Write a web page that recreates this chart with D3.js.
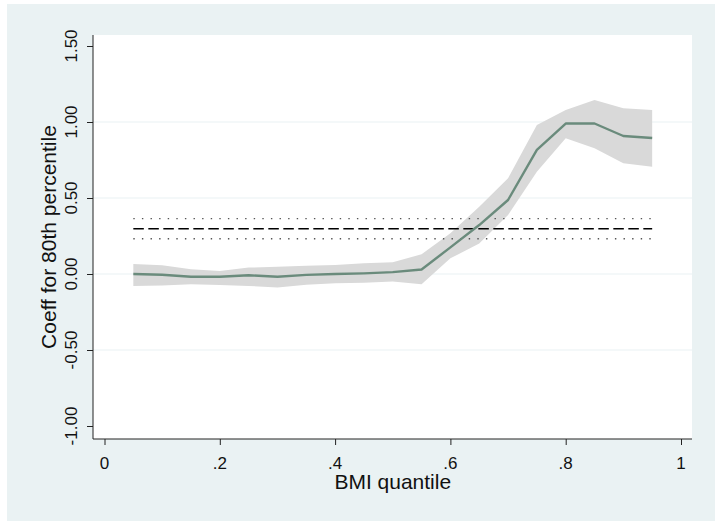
<!DOCTYPE html>
<html>
<head>
<meta charset="utf-8">
<script src="https://cdn.jsdelivr.net/npm/d3@7"></script>
<style>
  html, body { margin: 0; padding: 0; background: #ffffff; }
  svg { display: block; }
  .tick-label { font-family: "Liberation Sans Narrow", "Liberation Sans", Arial, sans-serif; font-size: 17px; fill: #111; }
  .axis-title { font-family: "Liberation Sans", Arial, sans-serif; font-size: 21px; fill: #111; }
</style>
</head>
<body>
<script>
// BMI quantiles at which the quantile-regression coefficient was estimated
const quantiles = [0.05, 0.10, 0.15, 0.20, 0.25, 0.30, 0.35, 0.40, 0.45, 0.50,
                   0.55, 0.60, 0.65, 0.70, 0.75, 0.80, 0.85, 0.90, 0.95];
// Coefficient for the 80th percentile at each quantile
const coef  = [0.000, -0.005, -0.018, -0.018, -0.008, -0.018, -0.006, 0.000, 0.004, 0.012,
               0.030, 0.175, 0.322, 0.487, 0.816, 0.990, 0.990, 0.908, 0.895];
// 95% confidence band
const ciHigh = [0.066, 0.057, 0.031, 0.020, 0.042, 0.048, 0.055, 0.059, 0.070, 0.078,
                0.130, 0.268, 0.443, 0.630, 0.980, 1.079, 1.145, 1.090, 1.079];
const ciLow  = [-0.079, -0.075, -0.068, -0.072, -0.079, -0.088, -0.070, -0.061, -0.057, -0.050,
                -0.068, 0.103, 0.200, 0.388, 0.673, 0.893, 0.827, 0.728, 0.706];
// OLS reference estimate and its confidence limits
const olsCoef = 0.298;
const olsLow  = 0.232;
const olsHigh = 0.364;

const xTicks = [0, 0.2, 0.4, 0.6, 0.8, 1];
const xTickLabels = ["0", ".2", ".4", ".6", ".8", "1"];
const yTicks = [-1, -0.5, 0, 0.5, 1, 1.5];
const yTickLabels = ["-1.00", "-0.50", "0.00", "0.50", "1.00", "1.50"];
const yGrid = [-0.5, 0, 0.5, 1];

const W = 715, H = 521;
const bg = "#eaf2f3";
const plot = { left: 93, right: 692, top: 35, bottom: 439 };

const x = d3.scaleLinear().domain([0, 1]).range([104.5, 681]);
const y = d3.scaleLinear().domain([-1, 1.5]).range([426, 46]);

const svg = d3.select("body").append("svg")
  .attr("width", W).attr("height", H);

// outer graph region
svg.append("rect").attr("x", 7).attr("y", 4)
  .attr("width", W - 7).attr("height", H - 4).attr("fill", bg);

// plot region
svg.append("rect").attr("x", plot.left).attr("y", plot.top)
  .attr("width", plot.right - plot.left).attr("height", plot.bottom - plot.top)
  .attr("fill", "#ffffff");

// horizontal grid lines
svg.append("g").selectAll("line").data(yGrid).join("line")
  .attr("x1", plot.left).attr("x2", plot.right)
  .attr("y1", d => y(d)).attr("y2", d => y(d))
  .attr("stroke", bg).attr("stroke-width", 1.2);

const rows = quantiles.map((q, i) => ({ q, c: coef[i], lo: ciLow[i], hi: ciHigh[i] }));

// confidence band
svg.append("path").datum(rows)
  .attr("d", d3.area().x(d => x(d.q)).y0(d => y(d.lo)).y1(d => y(d.hi)))
  .attr("fill", "#d9d9d9");

// OLS estimate and its limits across the quantile range
const qMin = quantiles[0], qMax = quantiles[quantiles.length - 1];
[olsHigh, olsLow].forEach(v => {
  svg.append("line")
    .attr("x1", x(qMin)).attr("x2", x(qMax))
    .attr("y1", y(v)).attr("y2", y(v))
    .attr("stroke", "#555").attr("stroke-width", 1.4)
    .attr("stroke-dasharray", "1.4,7.2");
});
svg.append("line")
  .attr("x1", x(qMin)).attr("x2", x(qMax))
  .attr("y1", y(olsCoef)).attr("y2", y(olsCoef))
  .attr("stroke", "#000").attr("stroke-width", 1.6)
  .attr("stroke-dasharray", "10.5,4.5");

// quantile coefficient line
svg.append("path").datum(rows)
  .attr("d", d3.line().x(d => x(d.q)).y(d => y(d.c)))
  .attr("fill", "none").attr("stroke", "#6a8b7c").attr("stroke-width", 2.4)
  .attr("stroke-linejoin", "round");

// y axis
const yAxis = d3.axisLeft(y).tickValues(yTicks).tickSize(6).tickFormat("");
const gy = svg.append("g").attr("transform", `translate(${plot.left},0)`).call(yAxis);
gy.select(".domain").attr("d", `M0,${plot.top}V${plot.bottom}`);
gy.selectAll("line").attr("stroke", "#222");
gy.selectAll("path").attr("stroke", "#222");
svg.append("g").selectAll("text").data(yTicks).join("text")
  .attr("class", "tick-label")
  .attr("transform", d => `translate(77,${y(d)}) rotate(-90)`)
  .attr("text-anchor", "middle")
  .text((d, i) => yTickLabels[i]);

// x axis
const xAxis = d3.axisBottom(x).tickValues(xTicks).tickSize(6).tickFormat("");
const gx = svg.append("g").attr("transform", `translate(0,${plot.bottom})`).call(xAxis);
gx.select(".domain").attr("d", `M${plot.left},0H${plot.right}`);
gx.selectAll("line").attr("stroke", "#222");
gx.selectAll("path").attr("stroke", "#222");
svg.append("g").selectAll("text").data(xTicks).join("text")
  .attr("class", "tick-label")
  .attr("x", d => x(d)).attr("y", 469)
  .attr("text-anchor", "middle")
  .text((d, i) => xTickLabels[i]);

// axis titles
svg.append("text").attr("class", "axis-title")
  .attr("x", x(0.5)).attr("y", 489).attr("text-anchor", "middle")
  .text("BMI quantile");
svg.append("text").attr("class", "axis-title")
  .attr("transform", `translate(56,${(plot.top + plot.bottom) / 2}) rotate(-90)`)
  .attr("text-anchor", "middle")
  .text("Coeff for 80th percentile");
</script>
</body>
</html>
